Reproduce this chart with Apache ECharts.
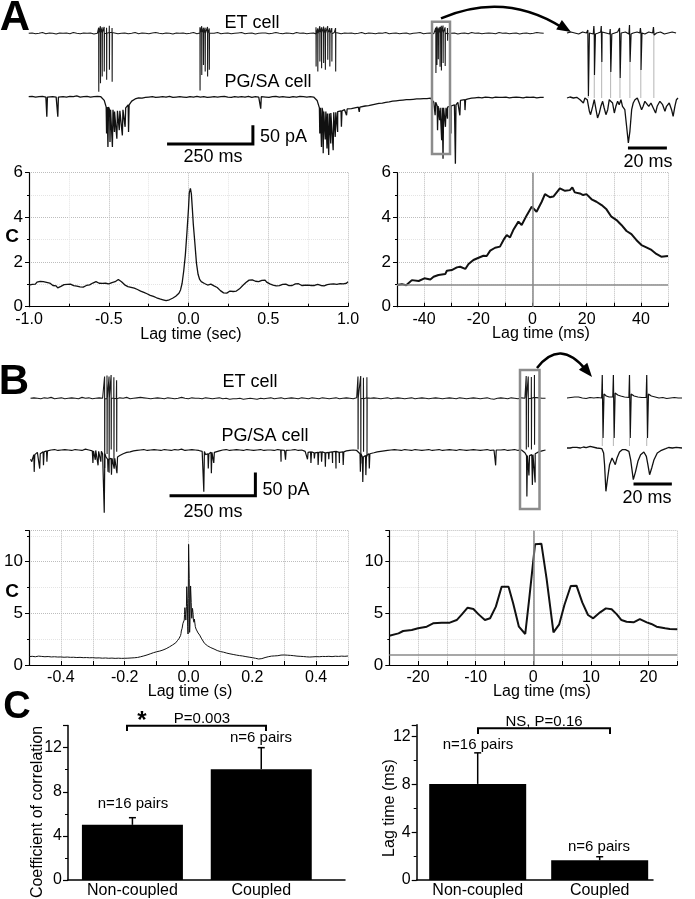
<!DOCTYPE html>
<html><head><meta charset="utf-8">
<script src="https://cdn.jsdelivr.net/npm/echarts/dist/echarts.min.js"></script>
<style>html,body{margin:0;padding:0;background:#fff}#c{width:695px;height:899px}</style>
</head><body><div id="c"></div>
<script>
const FN = '"Liberation Sans Narrow","Arial Narrow","Liberation Sans",Arial,sans-serif';
const FR = '"Liberation Sans",Arial,Helvetica,sans-serif';

// ===== Panel A : traces (ms, pA) =====
const etA_base = [
 0,1,-1,0,2,-1,1,0,-2,1, 0,1,-1,2,0,-1,1,0,1,-2, 0,1,-1,0,2,1,-1,0,1,-1, 0,2,-1,1,0,-1,1,2,0,-1,
 1,0,-2,1,0,1,-1,0,2,-1, 1,0,-1,1,0,2,-1,0,1,-1, 0,1,2,-1,0,1,-2,0,1,1, -1,0,2,0,-1,1,0,-1,2,0,
 1,-1,0,1,-2,1,0,1,-1,2, 0,-1,1,0,1,-1,0,2,-1,1, 0,-1,1,0,2,-1,0,1,-1,0, 1,-2,0,1,2,-1,0,1,-1,0,
 2,1,-1,0,1,-2,0,1,-1,2, 0,1,-1,0,1,0,-1,2,0,1, -1,0,1,-2,0,1,-1,0,2,1, 0];
const etA_spikes = [ // [time, depth, upstroke]
 [204,157,15],[209,134,18],[214,116,15],[220,103,18],[227,125,15],[235,98,18],[243,130,12],
 [499,154,15],[504,112,18],[509,85,15],[514,103,15],[521,116,18],[526,98,12],
 [837,89,18],[842,103,15],[848,76,18],[853,94,15],[859,80,18],[864,98,15],[871,71,18],[877,89,15],[883,76,15],[894,103,12],
 [1186,107,15],[1189,85,18],[1193,70,15],[1198,90,15],[1202,100,18],[1207,80,20],[1213,88,15],[1220,20,15]];
const pgA_base = [
 0,1,-1,0,1,-1,2,0,-1,1, 0,-1,1,0,2,-1,0,1,-1,0, 1,0,-10,-28,-35,-40,-38,-35,-30,-22,
 -12,-6,-3,-4,-2,-1,0,-2,-1,0, -1,1,-2,-1,0,-1,-2,0,-1,1, -1,0,-2,-1,0,-1,0,1,-1,-2,
 0,-1,0,-1,1,-2,0,-1,0,-1, -2,0,1,-1,0,-1,-2,0,-1,1, 0,-1,0,-1,-10,-30,-40,-45,-44,-42,
 -40,-38,-35,-33,-32,-30,-28,-27,-25,-24, -22,-20,-18,-17,-15,-14,-12,-11,-10,-9, -8,-8,-7,-6,-6,-5,-5,-4,-15,-25,
 -30,-30,-28,-25,-22,-15,-10,-8,-6,-4, -3,-2,-3,-1,-2,-3,-1,-2,-2,-1, -3,-2,-1,-2,-3,-1,-2,-1,-3,-2, -2];
const pgA_events = [ // [time, peak current]
 [52,54],[84,54],[226,99],[230,135],[236,122],[243,135],[249,95],[256,113],[263,90],[272,104],[280,81],[290,95],
 [675,32],[847,99],[852,135],[857,152],[863,115],[868,139],[873,157],[879,126],[886,144],[892,108],[899,95],[910,81],[925,50],[962,41],
 [1183,50],[1190,90],[1196,63],[1202,117],[1206,167],[1213,81],[1219,59],[1229,99],[1242,180],[1255,50],[1270,36]];

// Panel A inset (ms, arbitrary units)
const etAi_base = [0,1,0,-1,1,0,1,-1,0,1,0,-1,0,1,0,1,-1,0,1,0,-1,1,0,0,1,-1,0,1,0];
const etAi_spikes = [[10.9,63,3],[14.0,42,8],[17.8,29,6],[22.4,39,5],[27.2,45,5],[32.3,29,9],[37.9,37,5],[44.6,2,6]];
const etAi_reach = 65;
const pgAi = [[0,0],[1.5,1],[3.3,0],[5,0.7],[6.7,-1.7],[8.4,-5],[9.2,0],[10.4,-1.7],[11.5,-13.3],[12.1,-16.7],[13.2,-8.3],[14,-1.7],
 [14.9,-11.7],[15.7,-20],[16.6,-15],[17.4,-8.3],[18.3,-3.3],[19.1,-10],[20,-16.7],[20.9,-11.7],[21.7,-1.7],[22.6,0],[23.4,-5],
 [24.3,-15],[25.1,-8.3],[26,-3.3],[26.8,-6.7],[27.7,-1.7],[28.5,-8.3],[29.7,-11.7],[30.6,-28.3],[31.5,-45],[32.3,-33.3],[33.2,-11.7],
 [34,-5],[34.9,-1.7],[36.1,0],[37.1,-5],[38.3,-11.7],[39.1,-8.3],[40,-3.3],[40.8,-5],[42,-8.3],[43.1,-5],[44.3,-10],[45.5,-15],
 [46.3,-8.3],[47.7,-3.3],[49.1,-6.7],[50.3,-13.3],[51.1,-8.3],[52.5,-5],[53.7,-11.7],[54.5,-18.3],[55.4,-8.3],[56.2,-1.7],[57,0]];

// ===== Panel A : correlograms =====
const aLeft = [[-1,0.97],[-0.99,1.05],[-0.98,1.0],[-0.97,1.06],[-0.96,1.01],[-0.95,1.1],[-0.94,1.08],[-0.93,1.13],[-0.92,1.05],[-0.91,1.12],
 [-0.9,1.16],[-0.89,1.09],[-0.88,1.03],[-0.87,1.06],[-0.86,0.98],[-0.85,0.95],[-0.84,0.9],[-0.83,0.93],[-0.82,0.84],[-0.81,0.86],
 [-0.8,0.91],[-0.79,0.95],[-0.78,0.99],[-0.77,1.03],[-0.76,1.0],[-0.75,1.05],[-0.74,1.01],[-0.73,0.96],[-0.72,0.94],[-0.71,0.9],
 [-0.7,0.92],[-0.69,0.86],[-0.68,0.89],[-0.67,0.91],[-0.66,0.88],[-0.65,0.93],[-0.64,0.95],[-0.63,1.0],[-0.62,0.98],[-0.61,1.04],
 [-0.6,1.06],[-0.59,1.1],[-0.58,1.12],[-0.57,1.07],[-0.56,1.05],[-0.55,1.01],[-0.54,1.04],[-0.53,1.02],[-0.52,1.05],[-0.51,1.0],
 [-0.5,1.02],[-0.49,1.05],[-0.48,1.08],[-0.47,1.06],[-0.46,1.12],[-0.45,1.15],[-0.44,1.22],[-0.43,1.17],[-0.42,1.12],[-0.41,1.05],
 [-0.4,0.98],[-0.39,0.93],[-0.38,0.9],[-0.37,0.91],[-0.36,0.87],[-0.35,0.86],[-0.34,0.83],[-0.33,0.8],[-0.32,0.77],[-0.31,0.74],
 [-0.3,0.7],[-0.29,0.66],[-0.28,0.64],[-0.27,0.62],[-0.26,0.58],[-0.25,0.55],[-0.24,0.51],[-0.23,0.48],[-0.22,0.46],[-0.21,0.44],
 [-0.2,0.4],[-0.19,0.37],[-0.18,0.35],[-0.17,0.33],[-0.16,0.31],[-0.15,0.28],[-0.14,0.27],[-0.13,0.3],[-0.12,0.31],[-0.11,0.35],
 [-0.1,0.38],[-0.09,0.43],[-0.08,0.47],[-0.07,0.52],[-0.06,0.6],[-0.05,0.75],[-0.04,1.05],[-0.03,1.6],[-0.02,2.3],[-0.01,3.3],
 [0,4.4],[0.005,5.1],[0.012,5.3],[0.018,5.05],[0.024,4.4],[0.03,3.7],[0.04,2.84],[0.05,1.94],[0.06,1.45],[0.07,1.22],
 [0.08,1.12],[0.09,1.08],[0.1,1.04],[0.11,1.01],[0.12,0.97],[0.13,0.99],[0.14,1.01],[0.15,0.97],[0.16,0.93],[0.17,0.9],
 [0.18,0.86],[0.19,0.8],[0.2,0.72],[0.21,0.66],[0.22,0.62],[0.23,0.58],[0.24,0.61],[0.25,0.65],[0.26,0.7],[0.27,0.72],
 [0.28,0.68],[0.29,0.66],[0.3,0.7],[0.31,0.74],[0.32,0.8],[0.33,0.88],[0.34,0.95],[0.35,1.02],[0.36,1.08],[0.37,1.15],
 [0.38,1.19],[0.39,1.22],[0.4,1.2],[0.41,1.17],[0.42,1.14],[0.43,1.1],[0.44,1.12],[0.45,1.15],[0.46,1.18],[0.47,1.14],
 [0.48,1.19],[0.49,1.1],[0.5,1.06],[0.51,1.02],[0.52,1.0],[0.53,0.97],[0.54,0.95],[0.55,0.93],[0.56,0.96],[0.57,0.94],
 [0.58,0.98],[0.59,1.0],[0.6,0.97],[0.61,1.01],[0.62,0.96],[0.63,0.94],[0.64,0.92],[0.65,0.95],[0.66,0.99],[0.67,1.02],
 [0.68,0.98],[0.69,1.03],[0.7,0.97],[0.71,0.95],[0.72,0.93],[0.73,0.96],[0.74,1.0],[0.75,0.97],[0.76,0.99],[0.77,0.95],
 [0.78,0.92],[0.79,0.95],[0.8,0.98],[0.81,1.0],[0.82,0.96],[0.83,0.95],[0.84,0.98],[0.85,0.93],[0.86,0.96],[0.87,0.99],
 [0.88,0.97],[0.89,1.01],[0.9,0.99],[0.91,1.02],[0.92,0.97],[0.93,1.0],[0.94,0.98],[0.95,1.03],[0.96,1.05],[0.97,1.02],
 [0.98,1.07],[0.99,1.05],[1,1.12]];
const aRight = [[-50,0.97],[-48.2,1.01],[-46.6,0.96],[-44.5,1.19],[-42,1.15],[-39.9,1.27],[-37.7,1.22],[-36.5,1.34],[-34.7,1.42],
 [-32.2,1.46],[-31.6,1.61],[-29.8,1.64],[-27.9,1.76],[-26.7,1.79],[-24.8,1.69],[-23.6,1.91],[-21.8,2.09],[-19.9,2.19],[-18.1,2.28],
 [-16.9,2.27],[-15.6,2.51],[-13.8,2.64],[-12,2.69],[-10.7,2.99],[-9.5,3.21],[-8.3,3.1],[-7.1,3.43],[-5.2,3.81],[-4,3.66],[-2.1,4.1],
 [-0.3,4.48],[1.5,4.25],[3.4,4.7],[4.6,5.04],[6.4,4.9],[7.7,4.93],[10.1,5.3],[12,5.19],[13.8,5.22],[14.7,5.34],[15.6,5.12],[17.5,5.07],
 [18.7,5.0],[19.9,5.04],[21.8,4.81],[23.6,4.7],[25.5,4.55],[27.3,4.36],[29.1,4.03],[31,3.88],[32.8,3.66],[34.7,3.39],[36.5,3.25],
 [38.3,2.99],[40.2,2.76],[42,2.66],[43.9,2.54],[45.7,2.36],[47.5,2.24],[50,2.27]];

// ===== Panel B : traces =====
const etB_base = [
 0,1,0,-1,1,0,2,-1,0,1, -1,0,1,0,-1,2,0,1,-1,0, 1,0,-1,1,0,-1,1,0,2,-1, 0,1,2,1,0,-1,0,1,0,-1,
 1,0,-1,0,2,0,-1,1,0,0, -1,1,0,-1,0,1,-1,0,-2,-1, -1,0,-2,-1,0,-1,-2,0,-1,0, 1,-1,0,1,-1,0,1,0,-1,1,
 0,-1,1,0,-1,1,0,-1,0,1, -1,0,1,0,-1,1,0,-1,1,0, 1,0,-1,0,1,-1,0,1,0,-1, 0,1,-1,0,1,0,-1,0,1,0,
 -1,0,1,0,-1,1,0,-1,0,1, 0,-1,0,1,-1,-2,0,1,0,-1, 1,0,-1,1,0,-1,0,2,1,0, 0];
const etB_spikes = [
 [216,150,48],[223,120,50],[229,160,46],[235,110,50],[243,140,45],[251,115,40],
 [954,110,46],[962,140,48],[970,115,45],[980,125,44],
 [1444,110,48],[1450,105,48],[1459,110,46],[1468,100,48]];
const pgB_base = [
 -20,-10,-5,-8,-4,-2,0,1,-1,0, 1,0,-1,1,0,-1,2,0,-2,-1, -3,-8,-15,-20,-18,-15,-12,-8,-5,-4,
 -2,-1,0,1,-1,0,1,0,-1,1, 0,-1,1,0,2,-1,0,1,0,-1, -3,-10,-8,-5,-3,-2,0,1,-1,0,
 1,0,-1,1,0,-1,0,1,-1,0, 0,-1,1,0,-1,-2,0,1,-1,0, -3,-5,-4,-6,-5,-4,-6,-5,-4,-3,
 -5,-4,-2,-1,0,-1,-8,-15,-12,-8, -6,-4,-3,-2,-1,0,1,0,-1,1, 0,-1,1,0,-1,0,1,-1,0,1,
 -1,0,1,0,-1,1,0,-1,0,1, 0,-1,0,1,-1,0,-2,0,1,-1, 0,1,-1,0,-6,-12,-10,-8,-4,-2, 0];
const pgB_events = [
 [3,25],[10,47],[26,40],[37,33],[47,25],[181,28],[188,21],[196,33],[204,25],[214,135],[225,47],[235,53],[243,40],[251,50],
 [504,90],[517,40],[526,50],[533,28],[729,25],[742,21],
 [806,20],[816,28],[826,18],[837,32],[847,25],[858,36],[868,20],[879,28],[889,40],[899,28],[910,32],
 [960,47],[967,69],[976,54],[986,40],[1354,33],[1445,100],[1451,55],[1461,75],[1469,70]];

// Panel B inset
const etBi = [[0,0],[2,0.5],[4,1],[5,3],[6,1],[8,0],[10,-0.5],[12,0.5],[14,0],[16,0.5],[18.1,0],[18.4,23],[18.8,-40],[19.3,4],
 [20.5,2],[22,1],[23.9,1],[24.2,23],[24.6,-40],[25.1,5],[26.5,3],[28,2],[30,1],[32.3,0.5],[32.6,23],[33,-40],[33.5,4],[35,2],
 [37,1],[39,0.5],[41.3,0.5],[41.6,23],[42,-40],[42.5,4],[44,2],[46,1],[48,0],[50,0.5],[52,-0.5],[54,0],[56,0.5],[58,0],[60,0]];
const etBi_spikeT = [18.4,24.2,32.6,41.6];
const etBi_reach = 48;
const pgBi = [[0,0],[1.6,0],[3,0.7],[5.1,0.7],[7,0],[8.6,1],[10,0.3],[12.1,1.7],[15.6,0],[18.2,-0.7],[19.1,-5],[19.6,-16.7],
 [20.3,-43.3],[21.2,-30],[22.2,-16.7],[23.5,-10],[24.4,-11.7],[25.2,-16.7],[26.1,-10],[27.4,-4],[28.8,-1.7],[30.5,-1.7],
 [32.3,-3.3],[33.2,-11.7],[34.6,-31.7],[35.8,-23.3],[37,-13.3],[38.4,-6.7],[40.1,-4],[41.4,-8.3],[42.2,-16.7],[43.1,-26.7],
 [44.2,-20],[45.4,-11.7],[47.1,-5],[48.9,-2.7],[51.5,-0.7],[53,0.5],[55,0],[57,0.7],[60,0]];

// ===== Panel B : correlograms =====
const bLeftNeg = [[-0.5,0.81],[-0.49,0.84],[-0.48,0.8],[-0.47,0.86],[-0.46,0.83],[-0.45,0.8],[-0.44,0.82],[-0.43,0.78],[-0.42,0.8],
 [-0.41,0.77],[-0.4,0.78],[-0.39,0.75],[-0.38,0.77],[-0.37,0.74],[-0.36,0.75],[-0.35,0.72],[-0.34,0.74],[-0.33,0.71],[-0.32,0.72],
 [-0.31,0.7],[-0.3,0.71],[-0.29,0.68],[-0.28,0.69],[-0.27,0.66],[-0.26,0.68],[-0.25,0.65],[-0.24,0.67],[-0.23,0.64],[-0.22,0.66],
 [-0.21,0.64],[-0.2,0.65],[-0.19,0.66],[-0.18,0.68],[-0.17,0.7],[-0.16,0.73],[-0.15,0.8],[-0.14,0.88],[-0.13,0.97],[-0.12,1.08],
 [-0.11,1.19],[-0.1,1.28],[-0.09,1.35],[-0.08,1.45],[-0.07,1.58],[-0.06,1.75],[-0.05,1.94],[-0.04,2.15],[-0.035,2.35],[-0.03,2.55]];
const bRight = [[-25,2.84],[-23.4,3.06],[-22.6,3.29],[-21.1,3.39],[-20,3.55],[-18.5,3.71],[-17.4,4.03],[-15.9,4.1],[-14.5,4.1],
 [-13.3,4.35],[-12.4,4.9],[-11.4,5.55],[-10.4,5.42],[-9.5,4.9],[-8.4,4.35],[-7.5,4.52],[-6.5,5.65],[-5.5,7.58],[-4.3,7.58],
 [-3.5,5.97],[-2.5,3.71],[-1.4,3.0],[-0.7,6.45],[0.3,11.68],[1.4,11.74],[2.3,8.39],[3.5,3.16],[4.5,3.94],[5.4,5.81],[6.5,7.65],
 [7.5,7.68],[8.5,6.06],[9.5,4.84],[10.4,4.52],[11.6,5.1],[12.6,5.48],[13.6,5.39],[14.5,4.9],[15.3,4.35],[16.2,4.19],[17.4,4.13],
 [18.5,4.45],[19.7,4.13],[20.5,3.97],[21.4,3.71],[22.9,3.55],[23.7,3.48],[25,3.45]];
const bLeftPos = [[0.03,3.1],[0.035,2.9],[0.04,2.6],[0.05,2.1],[0.06,1.85],[0.07,1.68],[0.08,1.55],[0.09,1.4],[0.1,1.3],[0.11,1.24],
 [0.12,1.15],[0.13,1.08],[0.14,1.02],[0.15,0.96],[0.16,0.91],[0.17,0.87],[0.18,0.81],[0.19,0.76],[0.2,0.71],[0.21,0.65],[0.22,0.58],
 [0.23,0.62],[0.24,0.72],[0.25,0.8],[0.26,0.86],[0.27,0.88],[0.28,0.9],[0.29,0.96],[0.3,0.97],[0.31,0.95],[0.32,0.93],[0.33,0.9],
 [0.34,0.86],[0.35,0.84],[0.36,0.82],[0.37,0.79],[0.38,0.77],[0.39,0.79],[0.4,0.81],[0.41,0.8],[0.42,0.83],[0.43,0.82],[0.44,0.84],
 [0.45,0.81],[0.46,0.85],[0.47,0.83],[0.48,0.86],[0.49,0.84],[0.5,0.87]];

// ===== Panel C : bars =====
const cCats = ['Non-coupled','Coupled'];
const corrMean = [5.0, 10.05];
const corrErr = [0.65, 1.95];
const lagMean = [8.05, 1.65];
const lagErr = [2.6, 0.3];

const SCALE_MS = 250, SCALE_PA = 50, INSET_MS = 20;

// ---------- builders ----------
function withSpikes(base, dt, spikes) {
  const pts = base.map((v, i) => [i * dt, v]);
  const at = t => base[Math.max(0, Math.min(base.length - 1, Math.round(t / dt)))];
  spikes.forEach(s => { const t = s[0], b = at(t);
    pts.push([t - 0.5, b], [t - 0.2, b + s[2]], [t + 0.1, -s[1]], [t + 0.6, b]); });
  return pts.sort((p, q) => p[0] - q[0]);
}
function withEvents(base, dt, events) {
  const pts = base.map((v, i) => [i * dt, v]);
  const at = t => base[Math.max(0, Math.min(base.length - 1, Math.round(t / dt)))];
  events.forEach(e => { const t = e[0], b = at(t);
    pts.push([t - 0.3, b], [t + 0.8, -e[1]], [t + 2.5, b]); });
  return pts.sort((p, q) => p[0] - q[0]);
}

const grids = [
 {left:28.7, top:14.7, width:515, height:93},
 {left:28.7, top:78.1, width:515, height:93},
 {left:567, top:13, width:111, height:100},
 {left:567, top:78, width:111, height:100},
 {left:29, top:172.7, width:319, height:134},
 {left:397, top:172.7, width:271, height:134},
 {left:30.5, top:351.8, width:515, height:139.5},
 {left:30.5, top:403.5, width:515, height:139.5},
 {left:567, top:358, width:115, height:120},
 {left:567, top:408, width:115, height:120},
 {left:29, top:530.7, width:319, height:134.3},
 {left:389.3, top:530.7, width:288, height:134.3},
 {left:68, top:725.6, width:277, height:155.1},
 {left:416.7, top:724.8, width:236.3, height:155.2}
];
const xAxes = [], yAxes = [];
function hidden(gi, x0, x1, y0, y1) {
  xAxes.push({gridIndex:gi, type:'value', min:x0, max:x1, show:false});
  yAxes.push({gridIndex:gi, type:'value', min:y0, max:y1, show:false});
}
function corrAxes(gi, xmin, xmax, xint, xfmt, xminor, ymax, yint) {
  xAxes.push({gridIndex:gi, type:'value', min:xmin, max:xmax, interval:xint,
    axisLine:{show:true, onZero:false, lineStyle:{color:'#000', width:1.2}},
    axisTick:{show:true, inside:true, length:4, lineStyle:{color:'#000'}},
    minorTick:{show:xminor>0, splitNumber:xminor||2, length:3, lineStyle:{color:'#000'}},
    splitLine:{show:true, lineStyle:{color:'#bdbdbd', type:'dotted'}},
    minorSplitLine:{show:xminor>0, lineStyle:{color:'#e4e4e4', type:'dotted'}},
    axisLabel:{formatter:xfmt, fontFamily:FN, fontSize:16, color:'#000', margin:5, showMinLabel:true, showMaxLabel:true}});
  yAxes.push({gridIndex:gi, type:'value', min:0, max:ymax, interval:yint,
    axisLine:{show:true, onZero:false, lineStyle:{color:'#000', width:1.2}},
    axisTick:{show:true, inside:false, length:4, lineStyle:{color:'#000'}},
    minorTick:{show:true, splitNumber:2, length:2, lineStyle:{color:'#000'}},
    splitLine:{show:true, lineStyle:{color:'#bdbdbd', type:'dotted'}},
    minorSplitLine:{show:true, lineStyle:{color:'#e4e4e4', type:'dotted'}},
    axisLabel:{fontFamily:FN, fontSize:17, color:'#000', margin:6, showMaxLabel:(ymax % yint === 0)}});
}
function barAxes(gi, xmax, ymax) {
  xAxes.push({gridIndex:gi, type:'value', min:0.5, max:xmax, interval:0.5,
    axisLine:{show:true, onZero:false, lineStyle:{color:'#000', width:1.5}},
    axisTick:{show:false}, splitLine:{show:false},
    axisLabel:{formatter: v => (v === 1 ? cCats[0] : (v === 2 ? cCats[1] : '')), fontFamily:FR, fontSize:16, color:'#000', margin:3}});
  yAxes.push({gridIndex:gi, type:'value', min:0, max:ymax, interval:4,
    axisLine:{show:true, onZero:false, lineStyle:{color:'#000', width:1.5}},
    axisTick:{show:true, length:5, lineStyle:{color:'#000', width:1.2}},
    minorTick:{show:true, splitNumber:2, length:3, lineStyle:{color:'#000'}},
    splitLine:{show:false},
    axisLabel:{fontFamily:FR, fontSize:16, color:'#000', margin:6, showMaxLabel:false}});
}

hidden(0, 0, 1500, -200, 50);
hidden(1, 0, 1500, -200, 50);
hidden(2, 0, 57, -80, 20);
hidden(3, 0, 57, -80, 20);
corrAxes(4, -1, 1, 0.5, v => v.toFixed(1), 2, 6, 2);
corrAxes(5, -50, 50, 10, v => (Math.round(v) % 20 === 0 ? String(Math.round(v)) : ''), 0, 6, 2);
hidden(6, 0, 1500, -200, 100);
hidden(7, 0, 1500, -200, 100);
hidden(8, 0, 60, -80, 40);
hidden(9, 0, 60, -80, 40);
corrAxes(10, -0.5, 0.5, 0.1, v => { const k = Math.round(v * 10); return k % 2 === 0 ? (k / 10).toFixed(1) : ''; }, 0, 13, 5);
corrAxes(11, -25, 25, 5, v => (Math.round(v) % 10 === 0 ? String(Math.round(v)) : ''), 0, 13, 5);
barAxes(12, 2.65, 14);
barAxes(13, 2.437, 13);

function trace(gi, data, width, color) {
  return {type:'line', xAxisIndex:gi, yAxisIndex:gi, data, symbol:'none', showSymbol:false, silent:true,
    lineStyle:{color:color || '#111', width:width || 1.2}, z:3};
}
function faint(gi, items) { // items: [t, fromDepth, toDepth]
  return {type:'custom', xAxisIndex:gi, yAxisIndex:gi, data:items, silent:true, z:2,
    renderItem:(p, api) => { const a = api.coord([api.value(0), -api.value(1)]), b = api.coord([api.value(0), -api.value(2)]);
      return {type:'line', shape:{x1:a[0], y1:a[1], x2:b[0], y2:b[1]}, style:{stroke:'#b5b5b5', lineWidth:1}}; }};
}
function scaleBar(gi, t0, y0, len, vlen) {
  const d = [[t0, y0], [t0 + len, y0]];
  if (vlen) d.push([t0 + len, y0 + vlen]);
  return {type:'line', xAxisIndex:gi, yAxisIndex:gi, data:d, symbol:'none', silent:true, lineStyle:{color:'#000', width:3, cap:'butt', join:'miter'}};
}
function errBars(gi, means, errs) {
  return {type:'custom', xAxisIndex:gi, yAxisIndex:gi, silent:true, z:4,
    data: means.map((m, i) => [i + 1, m, m + errs[i]]),
    renderItem:(p, api) => { const a = api.coord([api.value(0), api.value(1)]), b = api.coord([api.value(0), api.value(2)]);
      return {type:'group', children:[
        {type:'line', shape:{x1:a[0], y1:a[1], x2:b[0], y2:b[1]}, style:{stroke:'#000', lineWidth:1.5}},
        {type:'line', shape:{x1:b[0]-3.5, y1:b[1], x2:b[0]+3.5, y2:b[1]}, style:{stroke:'#000', lineWidth:1.5}}]}; }};
}
const refLines = {silent:true, symbol:'none', label:{show:false}, lineStyle:{color:'#8a8a8a', width:1.5, type:'solid'}, data:[{yAxis:1},{xAxis:0}]};

const series = [
  trace(0, withSpikes(etA_base, 10, etA_spikes), 1.1, '#1a1a1a'),
  trace(1, withEvents(pgA_base, 10, pgA_events), 1.3),
  scaleBar(1, 403, -127, SCALE_MS, SCALE_PA),
  faint(2, etAi_spikes.map(s => [s[0], s[1], etAi_reach])),
  trace(2, withSpikes(etAi_base, 2, etAi_spikes), 1.2),
  trace(3, pgAi, 1.3),
  scaleBar(3, 31.3, -50, INSET_MS, 0),
  trace(4, aLeft, 1.3),
  Object.assign(trace(5, aRight, 2), {markLine: refLines}),
  trace(6, withSpikes(etB_base, 10, etB_spikes), 1.1, '#1a1a1a'),
  trace(7, withEvents(pgB_base, 10, pgB_events), 1.2),
  scaleBar(7, 405, -98.3, SCALE_MS, SCALE_PA),
  faint(8, etBi_spikeT.map(t => [t, 40, etBi_reach])),
  trace(8, etBi, 1.2),
  trace(9, pgBi, 1.3),
  scaleBar(9, 34.7, -36, INSET_MS, 0),
  trace(10, bLeftNeg.concat(bRight.map(p => [p[0] / 1000, p[1]]), bLeftPos), 1),
  Object.assign(trace(11, bRight, 2), {markLine: refLines}),
  {type:'bar', xAxisIndex:12, yAxisIndex:12, data: corrMean.map((v, i) => [i + 1, v]), barWidth:101, itemStyle:{color:'#000'}, silent:true, z:3},
  errBars(12, corrMean, corrErr),
  {type:'bar', xAxisIndex:13, yAxisIndex:13, data: lagMean.map((v, i) => [i + 1, v]), barWidth:97, itemStyle:{color:'#000'}, silent:true, z:3},
  errBars(13, lagMean, lagErr)
];

function txt(text, x, y, font, extra) {
  return Object.assign({type:'text', x, y, z:100, silent:true,
    style:{text, font, fill:'#000', align:'center', verticalAlign:'middle', textAlign:'center', textVerticalAlign:'middle'}}, extra || {});
}
const R18 = '18px ' + FR, N16 = '16px ' + FN, R15 = '15px ' + FR, R16 = '16px ' + FR;
const graphics = [
  txt('A', 15, 18, 'bold 42px ' + FR),
  txt('ET cell', 252, 23, R18),
  txt('PG/SA cell', 268, 82, R18),
  txt('50 pA', 283.5, 137, R18),
  txt('250 ms', 213, 157, R18),
  txt('20 ms', 648, 162, R18),
  txt('C', 12, 237, 'bold 19px ' + FR),
  txt('Lag time (sec)', 191, 335, N16),
  txt('Lag time (ms)', 541, 334, N16),
  txt('B', 14, 382, 'bold 42px ' + FR),
  txt('ET cell', 250, 382, R18),
  txt('PG/SA cell', 265, 436, R18),
  txt('50 pA', 286, 490, R18),
  txt('250 ms', 213, 512, R18),
  txt('20 ms', 647, 498, R18),
  txt('C', 12, 592, 'bold 19px ' + FR),
  txt('Lag time (s)', 190, 692, N16),
  txt('Lag time (ms)', 542, 692, N16),
  txt('C', 17, 708, 'bold 38px ' + FR),
  txt('*', 142, 721, 'bold 24px ' + FR),
  txt('P=0.003', 202, 719, R15),
  txt('n=16 pairs', 133, 804, R15),
  txt('n=6 pairs', 261, 738, R15),
  txt('NS, P=0.16', 544, 721.7, R15),
  txt('n=16 pairs', 478, 745, R15),
  txt('n=6 pairs', 599, 846.7, R15),
  txt('Coefficient of correlation', 38, 812, R16, {rotation: Math.PI / 2}),
  txt('Lag time (ms)', 390, 808, R16, {rotation: Math.PI / 2}),
  {type:'rect', z:90, silent:true, shape:{x:432, y:21.7, width:18, height:132.3}, style:{fill:null, stroke:'#8c8c8c', lineWidth:2.5}},
  {type:'rect', z:90, silent:true, shape:{x:520, y:370, width:19.5, height:139}, style:{fill:null, stroke:'#8c8c8c', lineWidth:2.5}},
  {type:'bezierCurve', z:90, silent:true, shape:{x1:441, y1:18.3, cpx1:505, cpy1:-9, x2:563, y2:28}, style:{fill:null, stroke:'#000', lineWidth:2.5}},
  {type:'polygon', z:90, silent:true, shape:{points:[[571,32],[556.2,29.4],[561.9,20]]}, style:{fill:'#000'}},
  {type:'bezierCurve', z:90, silent:true, shape:{x1:537, y1:368, cpx1:560, cpy1:338, x2:586, y2:370}, style:{fill:null, stroke:'#000', lineWidth:2.5}},
  {type:'polygon', z:90, silent:true, shape:{points:[[592,377],[578.9,369.7],[587.3,362.7]]}, style:{fill:'#000'}},
  {type:'polyline', z:90, silent:true, shape:{points:[[127,731],[127,725.7],[266,725.7],[266,731]]}, style:{fill:null, stroke:'#000', lineWidth:2}},
  {type:'polyline', z:90, silent:true, shape:{points:[[478,734],[478,728.3],[610,728.3],[610,734]]}, style:{fill:null, stroke:'#000', lineWidth:2}}
];

const chart = echarts.init(document.getElementById('c'), null, {renderer:'canvas'});
chart.setOption({
  animation:false, backgroundColor:'#fff',
  textStyle:{fontFamily:FR},
  grid: grids, xAxis: xAxes, yAxis: yAxes, series, graphic: graphics
});
</script></body></html>
